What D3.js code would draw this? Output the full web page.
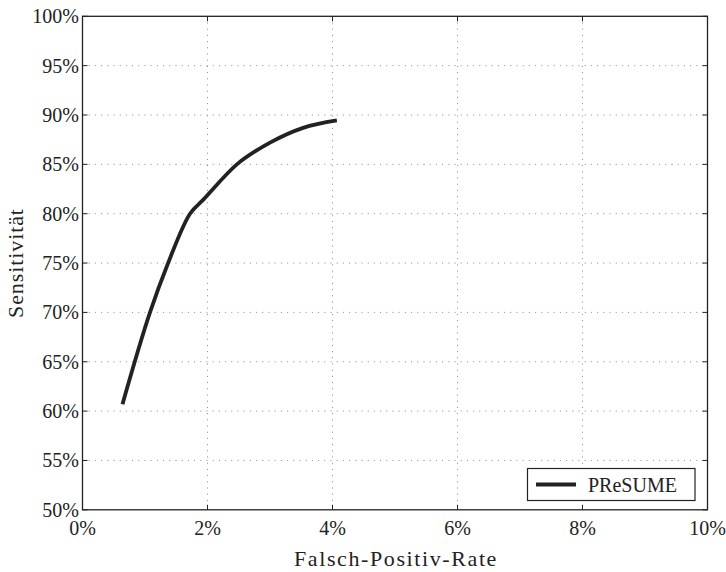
<!DOCTYPE html>
<html>
<head>
<meta charset="utf-8">
<script src="https://cdn.jsdelivr.net/npm/d3@7"></script>
<style>
  body { margin: 0; background: #fff; }
</style>
</head>
<body>
<svg id="chart" width="726" height="572"></svg>
<script>
// ROC curve values (percent)
let fpr = [0.64, 1.08, 1.37, 1.72, 1.93, 2.47, 3.0, 3.53, 4.07];
let sens = [60.7, 70.0, 75.0, 80.0, 81.4, 85.0, 87.2, 88.7, 89.45];
let xTicks = [0, 2, 4, 6, 8, 10];
let yTicks = [50, 55, 60, 65, 70, 75, 80, 85, 90, 95, 100];
let seriesName = "PReSUME";

let font = "Liberation Serif";
let ink = "#222";

let svg = d3.select("#chart");
let pLeft = 82.5, pRight = 707.5, pTop = 16.3, pBottom = 509.8;

let xscale = d3.scaleLinear().domain([0, 10]).range([pLeft, pRight]);
let yscale = d3.scaleLinear().domain([50, 100]).range([pBottom, pTop]);

// grid
let grid = svg.append("g");
xTicks.slice(1, -1).forEach(t => {
    grid.append("line")
        .attr("x1", xscale(t)).attr("x2", xscale(t))
        .attr("y1", pTop).attr("y2", pBottom)
        .attr("stroke", "#888").attr("stroke-width", 1)
        .attr("stroke-dasharray", "1,5.2");
});
yTicks.slice(1, -1).forEach(t => {
    grid.append("line")
        .attr("x1", pLeft).attr("x2", pRight)
        .attr("y1", yscale(t)).attr("y2", yscale(t))
        .attr("stroke", "#888").attr("stroke-width", 1)
        .attr("stroke-dasharray", "1,5.2");
});

// inward ticks on all four sides
let tk = 5;
let ticks = svg.append("g").attr("stroke", ink).attr("stroke-width", 1);
xTicks.forEach(t => {
    ticks.append("line").attr("x1", xscale(t)).attr("x2", xscale(t)).attr("y1", pBottom).attr("y2", pBottom - tk);
    ticks.append("line").attr("x1", xscale(t)).attr("x2", xscale(t)).attr("y1", pTop).attr("y2", pTop + tk);
});
yTicks.forEach(t => {
    ticks.append("line").attr("x1", pLeft).attr("x2", pLeft + tk).attr("y1", yscale(t)).attr("y2", yscale(t));
    ticks.append("line").attr("x1", pRight).attr("x2", pRight - tk).attr("y1", yscale(t)).attr("y2", yscale(t));
});

// frame
svg.append("rect")
   .attr("x", pLeft).attr("y", pTop)
   .attr("width", pRight - pLeft).attr("height", pBottom - pTop)
   .attr("fill", "none").attr("stroke", ink).attr("stroke-width", 1.3);

// tick labels
svg.append("g").selectAll("text").data(xTicks).join("text")
   .attr("x", d => xscale(d)).attr("y", 535)
   .attr("text-anchor", "middle")
   .attr("font-family", font).attr("font-size", 20).attr("fill", ink)
   .text(d => d + "%");
svg.append("g").selectAll("text").data(yTicks).join("text")
   .attr("x", 79).attr("y", d => yscale(d) + 7)
   .attr("text-anchor", "end")
   .attr("font-family", font).attr("font-size", 20).attr("fill", ink)
   .text(d => d + "%");

// axis labels
svg.append("text")
   .attr("x", (pLeft + pRight) / 2 + 1).attr("y", 566)
   .attr("text-anchor", "middle")
   .attr("font-family", font).attr("font-size", 22).attr("letter-spacing", 1.6).attr("fill", ink)
   .text("Falsch-Positiv-Rate");
svg.append("text")
   .attr("transform", "translate(23," + ((pTop + pBottom) / 2) + ") rotate(-90)")
   .attr("text-anchor", "middle")
   .attr("font-family", font).attr("font-size", 22).attr("letter-spacing", 0.9).attr("fill", ink)
   .text("Sensitivität");

// curve
let data = fpr.map((d, i) => ({x: d, y: sens[i]}));
let dline = d3.line()
    .x(d => xscale(d.x))
    .y(d => yscale(d.y))
    .curve(d3.curveMonotoneX);
svg.append("path")
   .datum(data)
   .attr("fill", "none")
   .attr("stroke", ink)
   .attr("stroke-width", 3.8)
   .attr("d", dline);

// legend
let lg = svg.append("g");
lg.append("rect")
  .attr("x", 527.5).attr("y", 468.5).attr("width", 167.5).attr("height", 32)
  .attr("fill", "#fff").attr("stroke", ink).attr("stroke-width", 1.2);
lg.append("line")
  .attr("x1", 536).attr("x2", 576).attr("y1", 484.5).attr("y2", 484.5)
  .attr("stroke", ink).attr("stroke-width", 3.8);
lg.append("text")
  .attr("x", 588).attr("y", 491.5)
  .attr("font-family", font).attr("font-size", 20).attr("fill", ink)
  .text(seriesName);
</script>
</body>
</html>
